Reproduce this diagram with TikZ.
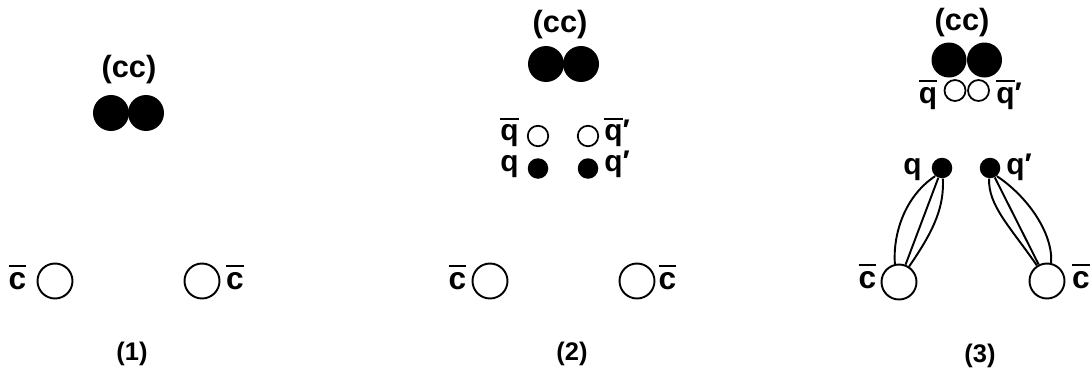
\documentclass[tikz,border=0pt]{standalone}
\usepackage{fontspec}
\setmainfont{Liberation Sans}
\newcommand\barred[1]{\vbox{\hrule height 1.1pt\kern 2.6pt\hbox{#1}}}
\begin{document}
\begin{tikzpicture}[x=0.02cm,y=-0.02cm,
  bigblack/.style={circle,fill=black,inner sep=0pt,minimum size=0.72cm},
  bigopen/.style={circle,draw,line width=1.1pt,fill=white,inner sep=0pt,minimum size=0.70cm},
  smallblack/.style={circle,fill=black,inner sep=0pt,minimum size=0.41cm},
  smallopen/.style={circle,draw,line width=1pt,fill=white,inner sep=0pt,minimum size=0.41cm},
  cclbl/.style={inner sep=0pt,font=\bfseries\fontsize{17.5}{20}\selectfont},
  qlbl/.style={inner sep=0pt,anchor=base,font=\bfseries\fontsize{17}{20}\selectfont},
  clbl/.style={inner sep=0pt,anchor=base,font=\bfseries\fontsize{18}{20}\selectfont},
  numlbl/.style={inner sep=0pt,font=\bfseries\fontsize{14.5}{16}\selectfont},
  qstring/.style={line width=1.1pt}]
\useasboundingbox (0,0) rectangle (1092,369);

% ---------- panel 1 ----------
\node[cclbl] (cc1) at (129,70) {(cc)};
\node[bigblack] (b1a) at (111,113) {};
\node[bigblack] (b1b) at (146,113) {};
\node[bigopen] (cl1) at (55,281) {};
\node[bigopen] (cr1) at (202,281) {};
\node[clbl] (lcl1) at (17.5,289) {\barred{c}};
\node[clbl] (lcr1) at (235,289) {\barred{c}};
\node[numlbl] (n1) at (132,354) {(1)};

% ---------- panel 2 ----------
\node[cclbl] (cc2) at (560,25) {(cc)};
\node[bigblack] (b2a) at (546,64) {};
\node[bigblack] (b2b) at (581,64) {};
\node[smallopen] (qb2a) at (538,136) {};
\node[smallopen] (qb2b) at (588,136) {};
\node[smallblack] (q2a) at (538,168.5) {};
\node[smallblack] (q2b) at (588,168.5) {};
\node[qlbl] (lqb2a) at (509.5,140.5) {\barred{q}};
\node[qlbl] (lqb2b) at (617,140.5) {\barred{q}′};
\node[qlbl] (lq2a) at (509.5,171.5) {q};
\node[qlbl] (lq2b) at (617,171.5) {q′};
\node[bigopen] (cl2) at (490,281) {};
\node[bigopen] (cr2) at (637,281) {};
\node[clbl] (lcl2) at (457.5,289) {\barred{c}};
\node[clbl] (lcr2) at (667.5,289) {\barred{c}};
\node[numlbl] (n2) at (572,354) {(2)};

% ---------- panel 3 ----------
\node[cclbl] (cc3) at (962,23) {(cc)};
\node[smallopen,minimum size=0.42cm] (qb3a) at (955,90.5) {};
\node[smallopen,minimum size=0.42cm] (qb3b) at (978.5,90.5) {};
\node[bigblack,minimum size=0.70cm] (b3a) at (949,60) {};
\node[bigblack,minimum size=0.70cm] (b3b) at (984.5,60) {};
\node[qlbl] (lqb3a) at (928,103) {\barred{q}};
\node[qlbl] (lqb3b) at (1009,103) {\barred{q}′};
\node[smallblack] (q3a) at (942,168) {};
\node[smallblack] (q3b) at (990,168) {};
\node[qlbl] (lq3a) at (912.5,174) {q};
\node[qlbl] (lq3b) at (1019,174) {q′};
\node[bigopen] (cl3) at (899,282) {};
\node[bigopen] (cr3) at (1047,281) {};
\node[clbl] (lcl3) at (867.5,288) {\barred{c}};
\node[clbl] (lcr3) at (1081,288) {\barred{c}};
\node[numlbl] (n3) at (980,356) {(3)};

% strings
\draw[qstring] (q3a.230) .. controls +(-30.6,20.3) and +(-2,-30) .. (cl3.103);
\draw[qstring] (q3a) -- (cl3);
\draw[qstring] (q3a.275) .. controls +(1,27) and +(27,-39) .. (cl3.57);
\draw[qstring] (q3b.310) .. controls +(30.6,20.3) and +(2,-30) .. (cr3.77);
\draw[qstring] (q3b) -- (cr3);
\draw[qstring] (q3b.265) .. controls +(-1,27) and +(-27,-39) .. (cr3.123);
\end{tikzpicture}
\end{document}
